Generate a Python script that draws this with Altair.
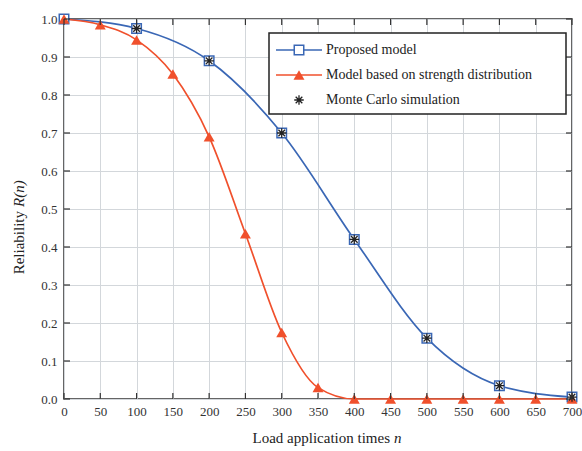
import altair as alt
import pandas as pd

# Reliability curves R(n) against the number of load applications n
n_proposed = [0, 100, 200, 300, 400, 500, 600, 700]
r_proposed = [1.0, 0.975, 0.89, 0.70, 0.42, 0.16, 0.035, 0.005]

n_strength = [0, 50, 100, 150, 200, 250, 300, 350, 400, 450, 500, 550, 600, 650, 700]
r_strength = [1.0, 0.985, 0.945, 0.855, 0.69, 0.435, 0.175, 0.03, 0.0, 0.0, 0.0, 0.0, 0.0, 0.0, 0.0]

n_mc = [100, 200, 300, 400, 500, 600, 700]
r_mc = [0.975, 0.89, 0.70, 0.42, 0.16, 0.035, 0.005]

x_ticks = list(range(0, 701, 50))
y_ticks = [round(i * 0.1, 1) for i in range(11)]

W, H = 508, 380
BLUE = "#3a67b5"
RED = "#f0502c"
FONT = "Liberation Serif"
ASTERISK = "M-1,0L1,0M0,-1L0,1M-0.7,-0.7L0.7,0.7M-0.7,0.7L0.7,-0.7"

proposed = pd.DataFrame({"n": n_proposed, "r": r_proposed})
strength = pd.DataFrame({"n": n_strength, "r": r_strength})
mc = pd.DataFrame({"n": n_mc, "r": r_mc})

xs = alt.Scale(domain=[0, 700], nice=False, zero=False)
ys = alt.Scale(domain=[0, 1], nice=False, zero=False)

x_axis = alt.Axis(values=x_ticks, format="d", labelFlush=False, labelPadding=6, title=None,
                  labelFont=FONT, labelFontSize=13)
y_axis = alt.Axis(values=y_ticks, format=".1f", labelFlush=False, labelPadding=7, title=None,
                  labelFont=FONT, labelFontSize=13)


def X(field):
    return alt.X(field, scale=xs, axis=x_axis)


def Y(field):
    return alt.Y(field, scale=ys, axis=y_axis)


line_blue = alt.Chart(proposed).mark_line(color=BLUE, strokeWidth=1.7, interpolate="monotone").encode(
    x=X("n:Q"), y=Y("r:Q"))
line_red = alt.Chart(strength).mark_line(color=RED, strokeWidth=1.7, interpolate="monotone").encode(
    x=X("n:Q"), y=Y("r:Q"))
pts_blue = alt.Chart(proposed).mark_point(shape="square", size=90, filled=False, color=BLUE,
                                          strokeWidth=1.5, fill="white", fillOpacity=1, opacity=1).encode(
    x=X("n:Q"), y=Y("r:Q"))
pts_red = alt.Chart(strength).mark_point(shape="triangle-up", size=120, filled=True, color=RED,
                                         opacity=1).encode(
    x=X("n:Q"), y=Y("r:Q"))
pts_mc = alt.Chart(mc).mark_point(shape=ASTERISK, size=90, filled=False, color="#222",
                                  strokeWidth=1.3, opacity=1).encode(
    x=X("n:Q"), y=Y("r:Q"))

# inward tick marks on all four sides of the frame
xt = pd.DataFrame({"n": x_ticks})
yt = pd.DataFrame({"r": y_ticks})
TICK = "#333"
tick_bottom = alt.Chart(xt).mark_rule(color=TICK, strokeWidth=1.2).encode(
    x=X("n:Q"), y=alt.value(H), y2=alt.value(H - 6))
tick_top = alt.Chart(xt).mark_rule(color=TICK, strokeWidth=1.2).encode(
    x=X("n:Q"), y=alt.value(0), y2=alt.value(6))
tick_left = alt.Chart(yt).mark_rule(color=TICK, strokeWidth=1.2).encode(
    y=Y("r:Q"), x=alt.value(0), x2=alt.value(6))
tick_right = alt.Chart(yt).mark_rule(color=TICK, strokeWidth=1.2).encode(
    y=Y("r:Q"), x=alt.value(W), x2=alt.value(W - 6))

# axis titles with italic variable names
one = pd.DataFrame({"a": [0]})
xt_main = alt.Chart(one).mark_text(text="Load application times", font=FONT, fontSize=15,
                                   align="right", baseline="alphabetic", color="#222").encode(
    x=alt.value(326), y=alt.value(424))
xt_var = alt.Chart(one).mark_text(text="n", font=FONT, fontSize=15, fontStyle="italic",
                                  align="left", baseline="alphabetic", color="#222").encode(
    x=alt.value(330), y=alt.value(424))
yt_main = alt.Chart(one).mark_text(text="Reliability", font=FONT, fontSize=15, angle=270,
                                   align="right", baseline="alphabetic", color="#222").encode(
    x=alt.value(-40), y=alt.value(192))
yt_var = alt.Chart(one).mark_text(text="R(n)", font=FONT, fontSize=15, fontStyle="italic", angle=270,
                                  align="left", baseline="alphabetic", color="#222").encode(
    x=alt.value(-40), y=alt.value(188))

# legend box
LX0, LX1, LY0, LY1 = 205, 502, 14, 95
leg_box = alt.Chart(one).mark_rect(fill="white", stroke="#222", strokeWidth=1.5).encode(
    x=alt.value(LX0), x2=alt.value(LX1), y=alt.value(LY0), y2=alt.value(LY1))
rows = [31, 56, 81]
leg_line1 = alt.Chart(one).mark_rule(color=BLUE, strokeWidth=1.7).encode(
    x=alt.value(212), x2=alt.value(258), y=alt.value(rows[0]))
leg_line2 = alt.Chart(one).mark_rule(color=RED, strokeWidth=1.7).encode(
    x=alt.value(212), x2=alt.value(258), y=alt.value(rows[1]))
leg_sq = alt.Chart(one).mark_point(shape="square", size=90, color=BLUE, fill="white", filled=False,
                                   fillOpacity=1, opacity=1, strokeWidth=1.5).encode(
    x=alt.value(235), y=alt.value(rows[0]))
leg_tri = alt.Chart(one).mark_point(shape="triangle-up", size=120, color=RED, filled=True, opacity=1).encode(
    x=alt.value(235), y=alt.value(rows[1]))
leg_star = alt.Chart(one).mark_point(shape=ASTERISK, size=90, color="#222", filled=False, opacity=1,
                                     strokeWidth=1.3).encode(
    x=alt.value(235), y=alt.value(rows[2]))
labels = ["Proposed model", "Model based on strength distribution", "Monte Carlo simulation"]
leg_text = [
    alt.Chart(one).mark_text(text=t, font=FONT, fontSize=14, align="left", baseline="middle",
                             color="#222").encode(x=alt.value(262), y=alt.value(r))
    for t, r in zip(labels, rows)
]

chart = alt.layer(
    line_blue, line_red, pts_blue, pts_red, pts_mc,
    tick_bottom, tick_top, tick_left, tick_right,
    leg_box, leg_line1, leg_line2, leg_sq, leg_tri, leg_star, *leg_text,
    xt_main, xt_var, yt_main, yt_var,
).properties(
    width=W, height=H,
    autosize=alt.AutoSizeParams(type="none"),
    padding={"left": 64, "top": 19, "right": 10, "bottom": 52},
    background="white",
).configure(
    font=FONT
).configure_view(
    stroke="#333", strokeWidth=1.5
).configure_axis(
    labelFont=FONT, labelFontSize=13, labelColor="#333",
    grid=True, gridColor="#d3d7db", gridWidth=1,
    ticks=False, domain=False,
)

chart.save("out.html", embed_options={"renderer": "svg", "actions": False})
